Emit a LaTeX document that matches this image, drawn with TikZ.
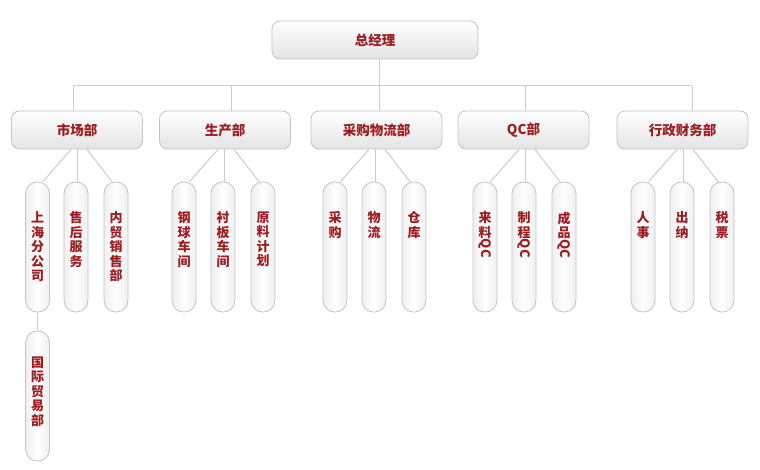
\documentclass[tikz,border=0pt]{standalone}
\usepackage{fontspec}
\usepackage{graphicx}
\newfontfamily\cjk{Noto Sans CJK SC}
\usetikzlibrary{calc}
\definecolor{txtred}{HTML}{9B1D1F}
\definecolor{edgegray}{HTML}{C4C4C4}
\definecolor{linegray}{HTML}{CCCCCC}
\definecolor{shadegray}{HTML}{E4E4E4}
\tikzset{
  box/.style={draw=edgegray, line width=0.8pt, rounded corners=8pt, top color=white, bottom color=shadegray,
    minimum width=131pt, minimum height=38pt, inner sep=0pt,
    font=\cjk\bfseries\fontsize{13.5}{15}\selectfont, text=txtred},
  topbox/.style={box, minimum width=206pt},
  pill/.style={draw=edgegray, line width=0.8pt, rounded corners=11.5pt, left color=shadegray!60, right color=shadegray!60, middle color=white,
    minimum width=24pt, minimum height=130pt, inner sep=0pt},
  vt/.style={anchor=north, align=center, inner sep=0pt, text=txtred,
    font=\cjk\bfseries\fontsize{13}{14.5}\selectfont},
  conn/.style={draw=linegray, line width=1pt},
}
\newcommand{\qcr}{\rotatebox[origin=c]{-90}{QC}}
\begin{document}
\begin{tikzpicture}[x=1pt,y=-1pt]
\useasboundingbox (0,0) rectangle (760,470);
% top
\node[topbox] (gm) at (375,40) {总经理};
% departments
\node[box] (d1) at (77,130) {市场部};
\node[box] (d2) at (225,130) {生产部};
\node[box] (d3) at (376.5,130) {采购物流部};
\node[box] (d4) at (523.5,130) {QC部};
\node[box] (d5) at (682.5,130) {行政财务部};
% bus
\coordinate (bus) at (379,86);
\coordinate (b1) at (73,86);
\coordinate (b5) at (692,86);
\draw[conn] (gm.south -| bus) -- (bus);
\draw[conn] (b1) -- (b5);
\draw[conn] (b1) -- (d1.north -| b1);
\draw[conn] (d2.north -| 231,0) -- (231,86);
\draw[conn] (d3.north -| bus) -- (bus);
\draw[conn] (d4.north -| 525,0) -- (525,86);
\draw[conn] (b5) -- (d5.north -| b5);
% pills
\foreach \n/\x in {11/37.5,12/76,13/116, 21/184,22/223,23/263, 31/335,32/374,33/414, 41/485,42/524,43/564, 51/643,52/682,53/722}{
  \node[pill] (p\n) at (\x,247) {};
}
\node[pill] (p14) at (37.5,396) {};
% connectors dept -> pills
\foreach \d in {1,...,5}{
  \draw[conn] ($(d\d.south -| p\d2)+(-5,0)$) -- ($(p\d1.north)+(5.5,0)$);
  \draw[conn] ($(d\d.south -| p\d2)+(1,0)$) -- ($(p\d2.north)+(1,0)$);
  \draw[conn] ($(d\d.south -| p\d2)+(11,0)$) -- ($(p\d3.north)+(-4,0)$);
}
\draw[conn] (p11.south) -- (p14.north);
% texts
\node[vt] (t11) at ($(p11.north)+(0,30)$) {上\\海\\分\\公\\司};
\node[vt] (t12) at ($(p12.north)+(0,30)$) {售\\后\\服\\务};
\node[vt] (t13) at ($(p13.north)+(0,30)$) {内\\贸\\销\\售\\部};
\node[vt] (t21) at ($(p21.north)+(0,30)$) {钢\\球\\车\\间};
\node[vt] (t22) at ($(p22.north)+(0,30)$) {衬\\板\\车\\间};
\node[vt] (t23) at ($(p23.north)+(0,30)$) {原\\料\\计\\划};
\node[vt] (t31) at ($(p31.north)+(0,30)$) {采\\购};
\node[vt] (t32) at ($(p32.north)+(0,30)$) {物\\流};
\node[vt] (t33) at ($(p33.north)+(0,30)$) {仓\\库};
\node[vt] (t41) at ($(p41.north)+(0,30)$) {来\\料\\\qcr};
\node[vt] (t42) at ($(p42.north)+(0,30)$) {制\\程\\\qcr};
\node[vt] (t43) at ($(p43.north)+(0,30)$) {成\\品\\\qcr};
\node[vt] (t51) at ($(p51.north)+(0,30)$) {人\\事};
\node[vt] (t52) at ($(p52.north)+(0,30)$) {出\\纳};
\node[vt] (t53) at ($(p53.north)+(0,30)$) {税\\票};
\node[vt] (t14) at ($(p14.north)+(0,26)$) {国\\际\\贸\\易\\部};
\end{tikzpicture}
\end{document}
